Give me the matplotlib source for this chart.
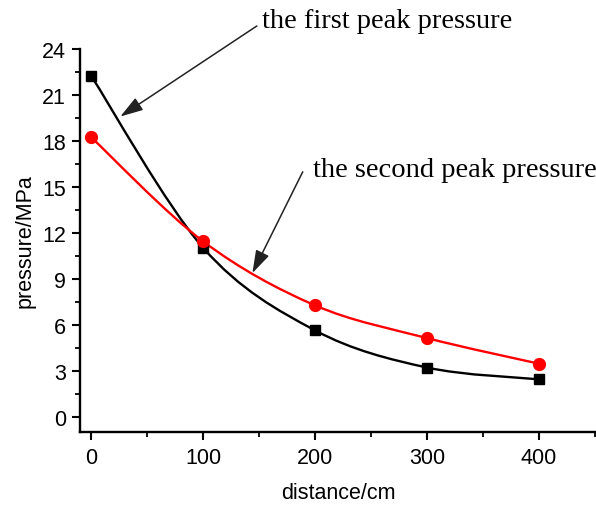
import matplotlib
matplotlib.use('Agg')
import matplotlib.pyplot as plt
from matplotlib.path import Path
from matplotlib.patches import PathPatch
from matplotlib.ticker import MultipleLocator

distance = [0, 100, 200, 300, 400]
first_peak = [22.25, 11.05, 5.67, 3.25, 2.48]
second_peak = [18.25, 11.47, 7.3, 5.17, 3.5]


def spline_path(xs, ys):
    # catmull-rom curve through the points, drawn as cubic bezier segments
    pts = list(zip(xs, ys))
    n = len(pts)
    verts = [pts[0]]
    codes = [Path.MOVETO]
    for i in range(n - 1):
        p0 = pts[max(i - 1, 0)]
        p1 = pts[i]
        p2 = pts[i + 1]
        p3 = pts[min(i + 2, n - 1)]
        c1 = (p1[0] + (p2[0] - p0[0]) / 6, p1[1] + (p2[1] - p0[1]) / 6)
        c2 = (p2[0] - (p3[0] - p1[0]) / 6, p2[1] - (p3[1] - p1[1]) / 6)
        verts += [c1, c2, p2]
        codes += [Path.CURVE4] * 3
    return Path(verts, codes)


fig = plt.figure(figsize=(5.96, 5.06), dpi=100)
ax = fig.add_axes([80 / 596, 73 / 506, 516 / 596, 383 / 506])

ax.add_patch(PathPatch(spline_path(distance, first_peak), fc='none', ec='black', lw=1.7))
ax.add_patch(PathPatch(spline_path(distance, second_peak), fc='none', ec='red', lw=1.7))
ax.plot(distance, first_peak, ls='none', marker='s', ms=7.5, color='black')
ax.plot(distance, second_peak, ls='none', marker='o', ms=8.5, color='red')

ax.set_xlim(-10, 451)
ax.set_ylim(-0.95, 24)
ax.xaxis.set_major_locator(MultipleLocator(100))
ax.xaxis.set_minor_locator(MultipleLocator(50))
ax.yaxis.set_major_locator(MultipleLocator(3))
ax.yaxis.set_minor_locator(MultipleLocator(1.5))

for s in ['top', 'right']:
    ax.spines[s].set_visible(False)
for s in ['left', 'bottom']:
    ax.spines[s].set_linewidth(1.7)

ax.tick_params(which='major', direction='out', length=6, width=1.5, pad=4,
               labelsize=15.5)
ax.tick_params(axis='x', which='major', pad=5)
ax.tick_params(which='minor', direction='out', length=3.5, width=1.3)
for lab in ax.get_xticklabels() + ax.get_yticklabels():
    lab.set_family('Liberation Sans')

ax.set_xlabel('distance/cm', fontsize=15.5, family='Liberation Sans', labelpad=10)
ax.set_ylabel('pressure/MPa', fontsize=15.5, family='Liberation Sans', labelpad=5)

arrow = dict(arrowstyle='-|>,head_length=0.7,head_width=0.22', color='#222222',
             lw=1.1, mutation_scale=20, shrinkA=0, shrinkB=0)
ax.annotate('', xy=(26, 19.6), xytext=(148, 25.5), arrowprops=arrow,
            annotation_clip=False)
ax.annotate('', xy=(144, 9.4), xytext=(189, 16.0), arrowprops=arrow,
            annotation_clip=False)
ax.text(153, 25.85, 'the first peak pressure', family='Liberation Serif',
        fontsize=20.5, va='center', ha='left', clip_on=False)
ax.text(198, 16.15, 'the second peak pressure', family='Liberation Serif',
        fontsize=20.5, va='center', ha='left', clip_on=False)

fig.savefig('out.png', dpi=100)
